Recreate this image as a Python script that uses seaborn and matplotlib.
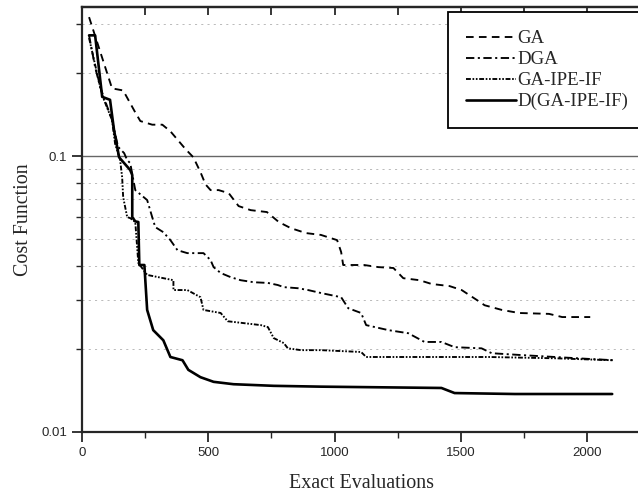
import numpy as np
import pandas as pd
import seaborn as sns
import matplotlib.pyplot as plt
from matplotlib.ticker import FixedLocator, NullFormatter, FixedFormatter

# values (x = exact evaluations, y = cost function)
ga_x = [28, 119, 163, 211, 231, 278, 318, 350, 410, 441, 469, 489, 509, 541, 581, 620,
        668, 732, 779, 827, 887, 946, 1010, 1026, 1034, 1117, 1173, 1233, 1272, 1336,
        1384, 1455, 1503, 1563, 1594, 1662, 1730, 1849, 1901, 2012]
ga_y = [0.319, 0.176, 0.173, 0.144, 0.134, 0.130, 0.130, 0.123, 0.106, 0.099, 0.0875,
        0.079, 0.0753, 0.0753, 0.0734, 0.0659, 0.0637, 0.0627, 0.0577, 0.0548, 0.0526,
        0.0518, 0.0496, 0.0449, 0.0403, 0.0403, 0.0396, 0.0393, 0.0361, 0.0355, 0.0344,
        0.0338, 0.0327, 0.0301, 0.0288, 0.0277, 0.0270, 0.0268, 0.0261, 0.0261]

dga_x = [28, 52, 72, 119, 143, 167, 179, 191, 211, 258, 278, 290, 322, 350, 378, 417,
         481, 509, 521, 549, 589, 628, 680, 736, 775, 799, 855, 895, 946, 1026, 1054,
         1105, 1125, 1213, 1292, 1356, 1423, 1475, 1582, 1622, 1741, 1873, 2008, 2107]
dga_y = [0.274, 0.210, 0.178, 0.135, 0.108, 0.1025, 0.0967, 0.0943, 0.0753, 0.0693,
         0.0601, 0.0553, 0.0530, 0.0496, 0.0456, 0.0445, 0.0445, 0.0420, 0.0396, 0.0377,
         0.0364, 0.0355, 0.0349, 0.0347, 0.0341, 0.0335, 0.0332, 0.0327, 0.0319, 0.0308,
         0.0281, 0.0270, 0.0244, 0.0234, 0.0228, 0.0212, 0.0212, 0.0203, 0.0201, 0.0193,
         0.0190, 0.0187, 0.0184, 0.0182]

ipe_x = [28, 72, 87, 119, 131, 151, 159, 163, 179, 191, 211, 223, 258, 362, 362, 417,
         469, 481, 549, 577, 708, 736, 759, 799, 815, 867, 946, 1105, 1125, 1610, 1873, 2099]
ipe_y = [0.268, 0.178, 0.160, 0.135, 0.111, 0.0967, 0.0839, 0.0710, 0.0601, 0.0596,
         0.0577, 0.0410, 0.0371, 0.0355, 0.0327, 0.0327, 0.0308, 0.0277, 0.0270, 0.0252,
         0.0244, 0.0240, 0.0219, 0.0210, 0.0201, 0.0198, 0.0198, 0.0195, 0.0187, 0.0187,
         0.0185, 0.0182]

dipe_x = [28, 52, 80, 111, 127, 147, 191, 199, 199, 211, 223, 227, 247, 258, 282, 322,
          350, 398, 421, 469, 521, 600, 759, 946, 1423, 1475, 1714, 2099]
dipe_y = [0.274, 0.274, 0.164, 0.160, 0.124, 0.099, 0.089, 0.0854, 0.0601, 0.0580,
          0.0577, 0.0403, 0.0403, 0.0277, 0.0234, 0.0215, 0.0187, 0.0182, 0.0168, 0.0158,
          0.0152, 0.0149, 0.0147, 0.0146, 0.01444, 0.01384, 0.01373, 0.01373]

names = ["GA", "DGA", "GA-IPE-IF", "D(GA-IPE-IF)"]

frames = []
for name, xs, ys in zip(names, [ga_x, dga_x, ipe_x, dipe_x], [ga_y, dga_y, ipe_y, dipe_y]):
    frames.append(pd.DataFrame({"evals": xs, "cost": ys, "method": name}))
df = pd.concat(frames, ignore_index=True)

sns.set_style("ticks")
plt.rcParams["lines.scale_dashes"] = False

fig = plt.figure(figsize=(6.38, 4.97), dpi=100)
ax = fig.add_axes([0.1285, 0.1308, 0.875, 0.855])

dash_map = {
    "GA": (5.5, 3.8),
    "DGA": (6, 2.5, 1.5, 2.5),
    "GA-IPE-IF": (3.5, 1.2, 1.2, 1.2, 1.2, 1.2),
    "D(GA-IPE-IF)": "",
}
sns.lineplot(data=df, x="evals", y="cost", hue="method", style="method",
             hue_order=names, style_order=names,
             palette=["black"] * 4, dashes=dash_map, sort=False,
             estimator=None, units="method", ax=ax, linewidth=1.35, legend=False)
ax.lines[3].set_linewidth(1.9)

ax.set_yscale("log")
ax.set_xlim(0, 2210)
ax.set_ylim(0.01, 0.347)

ax.xaxis.set_major_locator(FixedLocator([0, 500, 1000, 1500, 2000]))
ax.xaxis.set_minor_locator(FixedLocator([250, 750, 1250, 1750]))
ax.yaxis.set_major_locator(FixedLocator([0.01, 0.1]))
ax.yaxis.set_major_formatter(FixedFormatter(["0.01", "0.1"]))
minor_y = [0.02, 0.03, 0.04, 0.05, 0.06, 0.07, 0.08, 0.09, 0.2, 0.3]
ax.yaxis.set_minor_locator(FixedLocator(minor_y))
ax.yaxis.set_minor_formatter(NullFormatter())

ax.tick_params(which="major", direction="out", length=7, width=1.3, labelsize=9.5)
ax.tick_params(which="minor", direction="out", length=4, width=1.0)
for lab in ax.get_xticklabels() + ax.get_yticklabels():
    lab.set_fontfamily("Liberation Sans")

top = ax.secondary_xaxis("top")
top.xaxis.set_major_locator(FixedLocator([0, 500, 1000, 1500, 2000]))
top.xaxis.set_minor_locator(FixedLocator([250, 750, 1250, 1750]))
top.tick_params(which="both", direction="in", length=6, width=1.3, labeltop=False)
top.spines["top"].set_linewidth(1.6)

ax.grid(False)
ax.axhline(0.1, color="#666666", lw=1.0, zorder=0)
for v in minor_y:
    ax.axhline(v, color="#b0b0b0", lw=0.6, ls=(0, (1.5, 3)), zorder=0)

for s in ["left", "bottom", "top", "right"]:
    ax.spines[s].set_linewidth(1.6)

serif = ["Liberation Serif", "DejaVu Serif"]
ax.set_xlabel("Exact Evaluations", fontsize=14.4, family=serif, labelpad=11)
ax.set_ylabel("Cost Function", fontsize=14.4, family=serif, labelpad=6)

handles = ax.lines[:4]
leg = ax.legend(handles, names, loc="upper left", bbox_to_anchor=(0.656, 0.988),
                frameon=True, fancybox=False, framealpha=1, edgecolor="black",
                prop={"family": serif, "size": 13.6}, handlelength=2.65,
                handletextpad=0.05, labelspacing=0.2, borderpad=0.95,
                borderaxespad=0)
leg.get_frame().set_linewidth(1.3)

fig.savefig("out.png", dpi=100)
